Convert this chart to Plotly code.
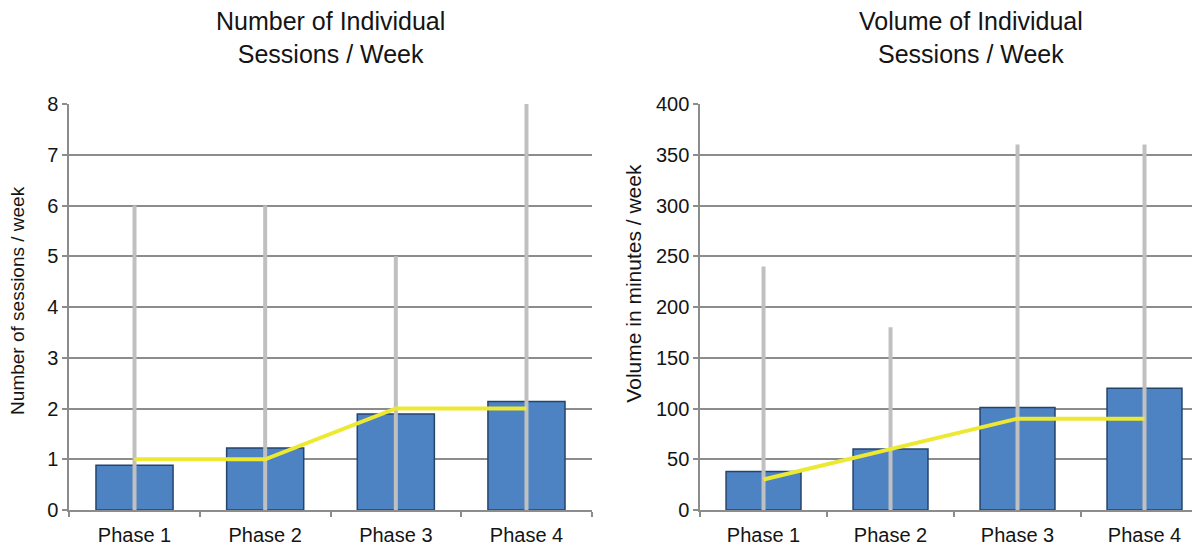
import plotly.graph_objects as go
from plotly.subplots import make_subplots

phases = ["Phase 1", "Phase 2", "Phase 3", "Phase 4"]

# Left chart: number of individual sessions / week
sessions_mean = [0.88, 1.22, 1.89, 2.14]
sessions_max = [6, 6, 5, 8]
sessions_median = [1, 1, 2, 2]

# Right chart: volume of individual sessions / week (minutes)
volume_mean = [38, 60, 101, 120]
volume_max = [240, 180, 360, 360]
volume_median = [30, 60, 90, 90]

FONT = "Liberation Sans, Arial, Helvetica, sans-serif"
TXT = "#141414"
BAR_COLOR = "#4d82c3"
BAR_EDGE = "#24446c"
RANGE_COLOR = "#c0c0c0"
MEDIAN_COLOR = "#ede832"
GRID = "#8c8c8c"

fig = make_subplots(rows=1, cols=2)


def range_xy(cats, maxima):
    xs, ys = [], []
    for c, m in zip(cats, maxima):
        xs += [c, c, None]
        ys += [0, m, None]
    return xs, ys


for col, means, maxima, medians in [
    (1, sessions_mean, sessions_max, sessions_median),
    (2, volume_mean, volume_max, volume_median),
]:
    fig.add_trace(
        go.Bar(
            x=phases, y=means, width=0.59,
            marker=dict(color=BAR_COLOR, line=dict(color=BAR_EDGE, width=1.5)),
            showlegend=False, hoverinfo="y",
        ),
        row=1, col=col,
    )
    rx, ry = range_xy(phases, maxima)
    fig.add_trace(
        go.Scatter(
            x=rx, y=ry, mode="lines",
            line=dict(color=RANGE_COLOR, width=4),
            showlegend=False, hoverinfo="skip",
        ),
        row=1, col=col,
    )
    fig.add_trace(
        go.Scatter(
            x=phases, y=medians, mode="lines",
            line=dict(color=MEDIAN_COLOR, width=4),
            showlegend=False,
        ),
        row=1, col=col,
    )

axis_common = dict(
    showline=True, linecolor=GRID, linewidth=1.5,
    ticks="outside", tickcolor=GRID, ticklen=5, tickwidth=1.5,
    tickfont=dict(family=FONT, size=20, color=TXT),
)

fig.update_xaxes(
    **axis_common, showgrid=False, tickson="boundaries",
    type="category", ticklabelstandoff=6,
)
# page is offset by the 8px body margin; domains compensate
fig.update_xaxes(domain=[0.051, 0.4865], range=[-0.5, 3.5], row=1, col=1)
fig.update_xaxes(domain=[0.5767, 1.0], range=[-0.5, 3.5], row=1, col=2)

fig.update_yaxes(
    **axis_common, showgrid=True, gridcolor=GRID, gridwidth=1.5,
    zeroline=False,
)
fig.update_yaxes(range=[0, 8], dtick=1, row=1, col=1)
fig.update_yaxes(range=[0, 400], dtick=50, row=1, col=2)

title_font = dict(family=FONT, size=25, color=TXT)
ytitle_font = dict(family=FONT, size=21, color=TXT)

fig.update_layout(
    width=1200, height=546,
    margin=dict(l=0, r=0, t=96, b=44),
    paper_bgcolor="white", plot_bgcolor="white",
    font=dict(family=FONT, color=TXT),
    annotations=[
        dict(text="Number of Individual<br>Sessions / Week", x=0.269, y=1.0,
             xref="paper", yref="paper", xanchor="center", yanchor="middle",
             yshift=67, showarrow=False, font=title_font),
        dict(text="Volume of Individual<br>Sessions / Week", x=0.8025, y=1.0,
             xref="paper", yref="paper", xanchor="center", yanchor="middle",
             yshift=67, showarrow=False, font=title_font),
        dict(text="Number of sessions / week", x=10 / 1200, y=0.515,
             xref="paper", yref="paper", xanchor="center", yanchor="middle",
             textangle=-90, showarrow=False,
             font=dict(family=FONT, size=19, color=TXT)),
        dict(text="Volume in minutes / week", x=626 / 1200, y=0.56,
             xref="paper", yref="paper", xanchor="center", yanchor="middle",
             textangle=-90, showarrow=False, font=ytitle_font),
    ],
)

fig.write_html("out.html")
